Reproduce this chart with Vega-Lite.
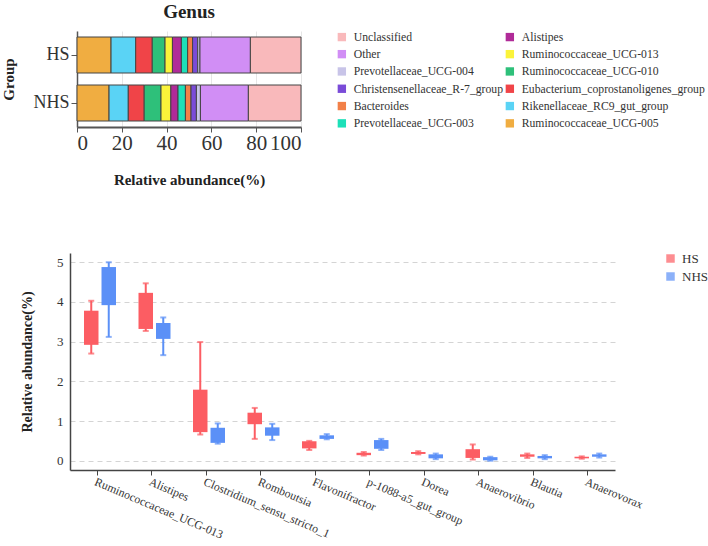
{
  "$schema": "https://vega.github.io/schema/vega-lite/v6.json",
  "padding": {"left": 1, "top": 3, "right": 0, "bottom": 0},
  "config": {
    "font": "Liberation Serif",
    "view": {"stroke": null},
    "title": {"font": "Liberation Serif"},
    "axis": {"labelFont": "Liberation Serif", "titleFont": "Liberation Serif", "labelColor": "#333", "titleColor": "#222", "domainColor": "#555", "tickColor": "#555"},
    "legend": {"labelFont": "Liberation Serif", "titleFont": "Liberation Serif"}
  },
  "datasets": {
    "composition": [
      {"group": "HS", "genus": "Ruminococcaceae_UCG-005", "value": 15.2, "rank": 1},
      {"group": "HS", "genus": "Rikenellaceae_RC9_gut_group", "value": 11.0, "rank": 2},
      {"group": "HS", "genus": "Eubacterium_coprostanoligenes_group", "value": 7.4, "rank": 3},
      {"group": "HS", "genus": "Ruminococcaceae_UCG-010", "value": 5.7, "rank": 4},
      {"group": "HS", "genus": "Ruminococcaceae_UCG-013", "value": 3.3, "rank": 5},
      {"group": "HS", "genus": "Alistipes", "value": 4.0, "rank": 6},
      {"group": "HS", "genus": "Prevotellaceae_UCG-003", "value": 2.8, "rank": 7},
      {"group": "HS", "genus": "Bacteroides", "value": 2.2, "rank": 8},
      {"group": "HS", "genus": "Christensenellaceae_R-7_group", "value": 2.3, "rank": 9},
      {"group": "HS", "genus": "Prevotellaceae_UCG-004", "value": 1.0, "rank": 10},
      {"group": "HS", "genus": "Other", "value": 22.5, "rank": 11},
      {"group": "HS", "genus": "Unclassified", "value": 22.6, "rank": 12},
      {"group": "NHS", "genus": "Ruminococcaceae_UCG-005", "value": 14.3, "rank": 1},
      {"group": "NHS", "genus": "Rikenellaceae_RC9_gut_group", "value": 8.6, "rank": 2},
      {"group": "NHS", "genus": "Eubacterium_coprostanoligenes_group", "value": 7.1, "rank": 3},
      {"group": "NHS", "genus": "Ruminococcaceae_UCG-010", "value": 7.5, "rank": 4},
      {"group": "NHS", "genus": "Ruminococcaceae_UCG-013", "value": 4.4, "rank": 5},
      {"group": "NHS", "genus": "Alistipes", "value": 3.2, "rank": 6},
      {"group": "NHS", "genus": "Prevotellaceae_UCG-003", "value": 3.3, "rank": 7},
      {"group": "NHS", "genus": "Bacteroides", "value": 2.5, "rank": 8},
      {"group": "NHS", "genus": "Christensenellaceae_R-7_group", "value": 2.4, "rank": 9},
      {"group": "NHS", "genus": "Prevotellaceae_UCG-004", "value": 1.8, "rank": 10},
      {"group": "NHS", "genus": "Other", "value": 21.4, "rank": 11},
      {"group": "NHS", "genus": "Unclassified", "value": 23.5, "rank": 12}
    ],
    "boxes": [
      {"genus": "Ruminococcaceae_UCG-013", "group": "HS", "min": 2.70, "q1": 2.92, "q3": 3.78, "max": 4.03},
      {"genus": "Ruminococcaceae_UCG-013", "group": "NHS", "min": 3.12, "q1": 3.92, "q3": 4.88, "max": 5.00},
      {"genus": "Alistipes", "group": "HS", "min": 3.27, "q1": 3.32, "q3": 4.23, "max": 4.47},
      {"genus": "Alistipes", "group": "NHS", "min": 2.66, "q1": 3.07, "q3": 3.47, "max": 3.61},
      {"genus": "Clostridium_sensu_stricto_1", "group": "HS", "min": 0.66, "q1": 0.72, "q3": 1.79, "max": 2.99},
      {"genus": "Clostridium_sensu_stricto_1", "group": "NHS", "min": 0.43, "q1": 0.45, "q3": 0.83, "max": 0.94},
      {"genus": "Romboutsia", "group": "HS", "min": 0.55, "q1": 0.92, "q3": 1.21, "max": 1.33},
      {"genus": "Romboutsia", "group": "NHS", "min": 0.52, "q1": 0.63, "q3": 0.84, "max": 0.93},
      {"genus": "Flavonifractor", "group": "HS", "min": 0.27, "q1": 0.31, "q3": 0.49, "max": 0.50},
      {"genus": "Flavonifractor", "group": "NHS", "min": 0.54, "q1": 0.55, "q3": 0.64, "max": 0.67},
      {"genus": "p-1088-a5_gut_group", "group": "HS", "min": 0.13, "q1": 0.14, "q3": 0.20, "max": 0.22},
      {"genus": "p-1088-a5_gut_group", "group": "NHS", "min": 0.27, "q1": 0.30, "q3": 0.52, "max": 0.55},
      {"genus": "Dorea", "group": "HS", "min": 0.16, "q1": 0.17, "q3": 0.22, "max": 0.24},
      {"genus": "Dorea", "group": "NHS", "min": 0.04, "q1": 0.06, "q3": 0.16, "max": 0.18},
      {"genus": "Anaerovibrio", "group": "HS", "min": 0.03, "q1": 0.07, "q3": 0.29, "max": 0.41},
      {"genus": "Anaerovibrio", "group": "NHS", "min": 0.00, "q1": 0.01, "q3": 0.09, "max": 0.10},
      {"genus": "Blautia", "group": "HS", "min": 0.07, "q1": 0.10, "q3": 0.16, "max": 0.18},
      {"genus": "Blautia", "group": "NHS", "min": 0.04, "q1": 0.06, "q3": 0.12, "max": 0.14},
      {"genus": "Anaerovorax", "group": "HS", "min": 0.05, "q1": 0.06, "q3": 0.10, "max": 0.11},
      {"genus": "Anaerovorax", "group": "NHS", "min": 0.08, "q1": 0.10, "q3": 0.16, "max": 0.18}
    ]
  },
  "vconcat": [
    {
      "data": {"name": "composition"},
      "title": {"text": "Genus", "fontSize": 19, "fontWeight": "bold", "anchor": "middle", "dx": 3.5, "offset": 9, "color": "#222"},
      "width": 231,
      "height": 96,
      "mark": {"type": "bar", "stroke": "#444", "strokeWidth": 1},
      "encoding": {
        "y": {
          "field": "group", "type": "nominal", "sort": ["HS", "NHS"],
          "scale": {"paddingInner": 0.25, "paddingOuter": 0.125},
          "axis": {"title": "Group", "titleFontSize": 15, "titleFontWeight": "bold", "titlePadding": 16,
                   "labelFontSize": 18, "labelPadding": 2, "tickSize": 6, "offset": -7, "domainWidth": 1.5}
        },
        "x": {
          "field": "value", "type": "quantitative", "stack": "zero",
          "scale": {"domain": [0, 100], "range": [7, 231], "nice": false},
          "axis": {"title": "Relative abundance(%)", "titleFontSize": 15, "titleFontWeight": "bold", "titlePadding": 19,
                   "values": [0, 20, 40, 60, 80, 100], "labelFontSize": 21, "labelPadding": 0, "tickSize": 5,
                   "grid": true, "gridColor": "#e6e6e6", "domainWidth": 2}
        },
        "order": {"field": "rank", "type": "quantitative"},
        "color": {
          "field": "genus", "type": "nominal",
          "scale": {
            "domain": ["Unclassified", "Other", "Prevotellaceae_UCG-004", "Christensenellaceae_R-7_group", "Bacteroides", "Prevotellaceae_UCG-003", "Alistipes", "Ruminococcaceae_UCG-013", "Ruminococcaceae_UCG-010", "Eubacterium_coprostanoligenes_group", "Rikenellaceae_RC9_gut_group", "Ruminococcaceae_UCG-005"],
            "range": ["#f9b9bb", "#d18ef5", "#c8c4e8", "#7a4bd8", "#f28048", "#1de0b8", "#b02b98", "#fbf33a", "#2ec07a", "#f04448", "#5ad3f5", "#f0ad41"]
          },
          "legend": {
            "title": null, "orient": "none", "legendX": 266, "legendY": 0, "columns": 2,
            "symbolType": "square", "symbolSize": 70, "symbolStrokeWidth": 0,
            "labelFont": "Liberation Serif", "labelFontSize": 11.7, "labelColor": "#333", "labelLimit": 300, "rowPadding": 4.3, "columnPadding": 1, "labelOffset": 6
          }
        }
      }
    },
    {
      "data": {"name": "boxes"},
      "width": 545,
      "height": 217,
      "encoding": {
        "x": {
          "field": "genus", "type": "nominal",
          "sort": ["Ruminococcaceae_UCG-013", "Alistipes", "Clostridium_sensu_stricto_1", "Romboutsia", "Flavonifractor", "p-1088-a5_gut_group", "Dorea", "Anaerovibrio", "Blautia", "Anaerovorax"],
          "scale": {"paddingInner": 0, "paddingOuter": 0},
          "axis": {"title": null, "labelAngle": 23, "labelAlign": "left", "labelBaseline": "top", "labelFontSize": 11.8,
                   "labelPadding": 1, "tickSize": 5, "domainColor": "#444", "tickColor": "#444", "domainWidth": 1.5}
        },
        "xOffset": {"field": "group", "type": "nominal", "sort": ["HS", "NHS"], "scale": {"range": [12.5, 47.5], "paddingInner": 0, "paddingOuter": 0}},
        "color": {
          "field": "group", "type": "nominal",
          "scale": {"domain": ["HS", "NHS"], "range": ["#fc5d63", "#5b90f7"]},
          "legend": {
            "title": null, "orient": "none", "legendX": 594, "legendY": -1,
            "symbolType": "square", "symbolSize": 72, "symbolStrokeWidth": 0,
            "labelFont": "Liberation Serif", "labelFontSize": 13, "labelColor": "#333", "rowPadding": 4, "labelOffset": 5
          }
        }
      },
      "layer": [
        {
          "mark": {"type": "rule", "strokeWidth": 2},
          "encoding": {
            "y": {
              "field": "min", "type": "quantitative",
              "scale": {"domain": [-0.234, 5.234], "nice": false, "zero": false},
              "axis": {"title": "Relative abundance(%)", "titleFontSize": 14, "titleFontWeight": "bold", "titlePadding": 22,
                       "values": [0, 1, 2, 3, 4, 5], "labelFontSize": 13, "labelPadding": 7, "ticks": false,
                       "grid": true, "gridColor": "#d4d4d4", "gridDash": [5, 4], "gridWidth": 1,
                       "domainColor": "#444", "domainWidth": 1.5}
            },
            "y2": {"field": "max"}
          }
        },
        {
          "mark": {"type": "tick", "size": 6, "thickness": 2},
          "encoding": {"y": {"field": "min", "type": "quantitative"}}
        },
        {
          "mark": {"type": "tick", "size": 6, "thickness": 2},
          "encoding": {"y": {"field": "max", "type": "quantitative"}}
        },
        {
          "mark": {"type": "bar", "size": 14.5},
          "encoding": {
            "y": {"field": "q1", "type": "quantitative"},
            "y2": {"field": "q3"}
          }
        }
      ]
    }
  ],
  "resolve": {"scale": {"color": "independent", "x": "independent", "y": "independent"}},
  "spacing": 65
}
